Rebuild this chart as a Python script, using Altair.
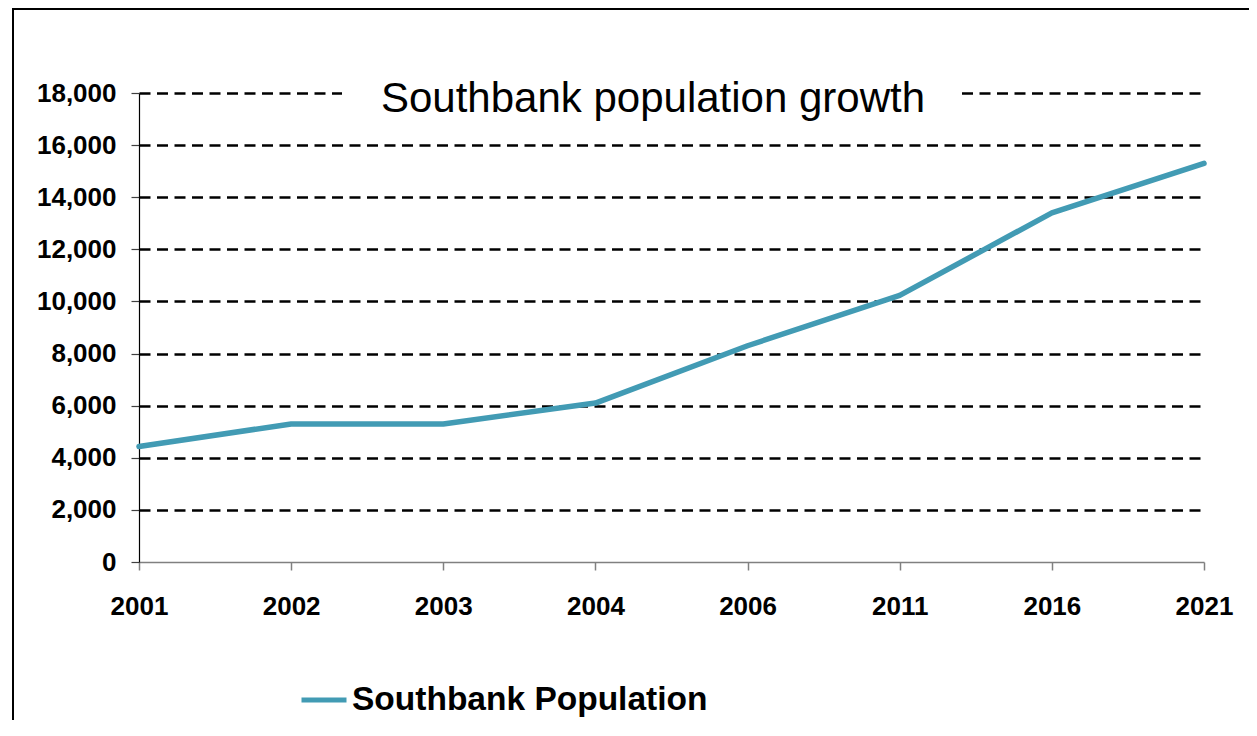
import altair as alt
import pandas as pd

years = ["2001", "2002", "2003", "2004", "2006", "2011", "2016", "2021"]
population = [4430, 5300, 5300, 6100, 8300, 10230, 13400, 15300]
series_name = "Southbank Population"
y_ticks = [0, 2000, 4000, 6000, 8000, 10000, 12000, 14000, 16000, 18000]
title_text = "Southbank population growth"
line_color = "#429BB4"
FONT = "Liberation Sans"

df = pd.DataFrame({"year": years, "population": population, "series": [series_name] * len(years)})
one = alt.Data(values=[{}])

W, H = 1065, 469

frame = alt.Chart(one).mark_rect(filled=False, stroke="black", strokeWidth=2, clip=False).encode(
    x=alt.value(-126), x2=alt.value(1300), y=alt.value(-84), y2=alt.value(900)
)

title_box = alt.Chart(one).mark_rect(fill="white", clip=False).encode(
    x=alt.value(203), x2=alt.value(823), y=alt.value(-25), y2=alt.value(30)
)

title = alt.Chart(one).mark_text(
    text=title_text, font=FONT, fontSize=42, align="center", baseline="alphabetic", color="black", clip=False
).encode(x=alt.value(514), y=alt.value(18.7))

line = alt.Chart(df).mark_line(strokeWidth=5.5, strokeCap="round", strokeJoin="round").encode(
    x=alt.X(
        "year:N",
        sort=years,
        scale=alt.Scale(type="point", padding=0),
        axis=alt.Axis(
            title=None, labelAngle=0, labelFont=FONT, labelFontSize=26, labelFontWeight="bold",
            labelColor="black", labelPadding=23, tickSize=8, tickColor="#808080", tickWidth=1.5,
            domainColor="#808080", domainWidth=1.5, grid=False,
        ),
    ),
    y=alt.Y(
        "population:Q",
        scale=alt.Scale(domain=[0, 18000], nice=False),
        axis=alt.Axis(
            title=None, values=y_ticks, format=",d", labelFont=FONT, labelFontSize=26,
            labelFontWeight="bold", labelColor="black", labelPadding=15, tickSize=8,
            tickColor="#404040", tickWidth=1.2, domainColor="black", domainWidth=1.2,
            grid=True, gridColor="black", gridWidth=2.5, gridDash=[11, 6.5],
            gridOpacity=alt.condition("datum.value == 0", alt.value(0), alt.value(1)),
        ),
    ),
    color=alt.Color(
        "series:N",
        scale=alt.Scale(domain=[series_name], range=[line_color]),
        legend=alt.Legend(
            title=None, orient="none", legendX=160, legendY=582, padding=0,
            symbolType="stroke", symbolSize=2025, symbolStrokeWidth=5,
            labelFont=FONT, labelFontSize=33.5, labelFontWeight="bold", labelColor="black",
            labelOffset=3, labelLimit=0,
        ),
    ),
)

chart = alt.layer(frame, title_box, title, line).properties(
    width=W, height=H,
    autosize=alt.AutoSizeParams(type="none"),
    padding={"left": 131, "top": 85, "right": 45, "bottom": 158},
    background="white",
).configure_view(stroke=None)

chart.save("out.html", embed_options={"renderer": "svg", "actions": False})
